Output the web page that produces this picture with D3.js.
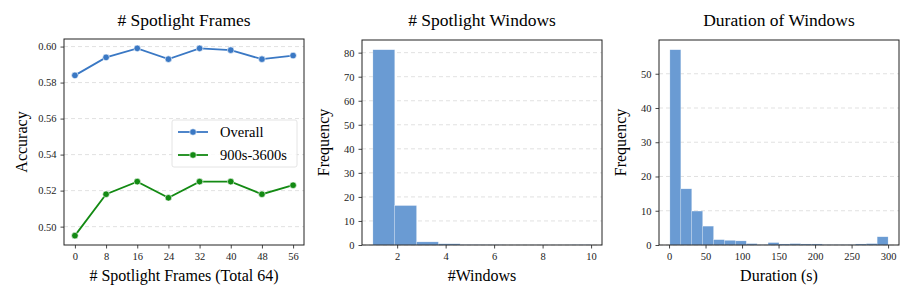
<!DOCTYPE html>
<html>
<head>
<meta charset="utf-8">
<script src="https://cdn.jsdelivr.net/npm/d3@7"></script>
<style>
  body { margin: 0; background: #fff; }
  svg { font-family: "Liberation Serif", "DejaVu Serif", serif; }
</style>
</head>
<body>
<div id="chart"></div>
<script>
// Panel 1: accuracy vs number of spotlight frames
const frames = [0, 8, 16, 24, 32, 40, 48, 56];
const accOverall = [0.584, 0.594, 0.599, 0.593, 0.599, 0.598, 0.593, 0.595];
const accLong = [0.495, 0.518, 0.525, 0.516, 0.525, 0.525, 0.518, 0.523];
const accTicks = [0.50, 0.52, 0.54, 0.56, 0.58, 0.60];

// Panel 2: histogram of # windows (bins from 1 to 10, width 0.9)
const winEdges = [1, 1.9, 2.8, 3.7, 4.6, 5.5, 6.4, 7.3, 8.2, 9.1, 10];
const winFreq = [81.2, 16.4, 1.3, 0.5, 0.15, 0.1, 0.05, 0.05, 0.05, 0.1];
const winXTicks = [2, 4, 6, 8, 10];
const winYTicks = [0, 10, 20, 30, 40, 50, 60, 70, 80];

// Panel 3: histogram of window durations (20 bins)
const durStart = 1.2, durEnd = 300, durBins = 20;
const durFreq = [57.0, 16.4, 9.9, 5.5, 1.55, 1.35, 1.2, 0.4, 0.1, 0.7,
                 0.3, 0.4, 0.3, 0.3, 0.1, 0.1, 0.1, 0.3, 0.4, 2.4];
const durXTicks = [0, 50, 100, 150, 200, 250, 300];
const durYTicks = [0, 10, 20, 30, 40, 50];

const W = 913, H = 302;
const barColor = "#6a9bd3";
const blue = "#3a78c4", green = "#138a13";

const svg = d3.select("#chart").append("svg")
  .attr("width", W).attr("height", H);

function panel(box, xDomain, yDomain, xTicks, yTicks, xFmt, yFmt, title, xLabel, yLabel, labelX) {
  const x = d3.scaleLinear().domain(xDomain).range([box.l, box.r]);
  const y = d3.scaleLinear().domain(yDomain).range([box.b, box.t]);

  // dashed horizontal grid
  svg.append("g").selectAll("line")
    .data(yTicks).enter().append("line")
      .attr("x1", box.l).attr("x2", box.r)
      .attr("y1", d => y(d)).attr("y2", d => y(d))
      .attr("stroke", "#d9d9d9").attr("stroke-width", 0.8)
      .attr("stroke-dasharray", "4,3");

  const g = svg.append("g");

  const xa = svg.append("g")
    .attr("transform", `translate(0,${box.b})`)
    .call(d3.axisBottom(x).tickValues(xTicks).tickFormat(xFmt).tickSize(3.5).tickPadding(4));
  const ya = svg.append("g")
    .attr("transform", `translate(${box.l},0)`)
    .call(d3.axisLeft(y).tickValues(yTicks).tickFormat(yFmt).tickSize(3.5).tickPadding(4));
  [xa, ya].forEach(a => {
    a.select(".domain").remove();
    a.selectAll("text").attr("font-size", 10.5).attr("fill", "#222")
      .attr("font-family", "Liberation Serif, serif");
    a.selectAll("line").attr("stroke", "#333").attr("stroke-width", 0.9);
  });

  // frame
  svg.append("rect")
    .attr("x", box.l).attr("y", box.t)
    .attr("width", box.r - box.l).attr("height", box.b - box.t)
    .attr("fill", "none").attr("stroke", "#222").attr("stroke-width", 1);

  svg.append("text")
    .attr("x", (box.l + box.r) / 2).attr("y", 26)
    .attr("text-anchor", "middle").attr("font-size", 17.5)
    .text(title);
  svg.append("text")
    .attr("x", (box.l + box.r) / 2).attr("y", 281)
    .attr("text-anchor", "middle").attr("font-size", 16)
    .text(xLabel);
  svg.append("text")
    .attr("transform", `translate(${labelX},${(box.t + box.b) / 2}) rotate(-90)`)
    .attr("text-anchor", "middle").attr("font-size", 16)
    .text(yLabel);

  return { x, y, g };
}

// ---- panel 1
const p1box = { l: 64, r: 304, t: 39, b: 245 };
const accMin = d3.min(accLong), accMax = d3.max(accOverall);
const accPad = (accMax - accMin) * 0.05;
const p1 = panel(p1box, [-2.8, 58.8], [accMin - accPad, accMax + accPad],
  frames, accTicks, d3.format("d"), d3.format(".2f"),
  "# Spotlight Frames", "# Spotlight Frames (Total 64)", "Accuracy", 27);

const series = [
  { name: "Overall", vals: accOverall, color: blue },
  { name: "900s-3600s", vals: accLong, color: green }
];
const line = d3.line().x(d => p1.x(d[0])).y(d => p1.y(d[1]));
series.forEach(s => {
  const pts = frames.map((f, i) => [f, s.vals[i]]);
  p1.g.append("path").datum(pts)
    .attr("d", line).attr("fill", "none")
    .attr("stroke", s.color).attr("stroke-width", 1.8);
  p1.g.selectAll(null).data(pts).enter().append("circle")
    .attr("cx", d => p1.x(d[0])).attr("cy", d => p1.y(d[1]))
    .attr("r", 3.3).attr("fill", s.color)
    .attr("stroke", "#fff").attr("stroke-width", 0.6);
});

// legend
const lg = svg.append("g").attr("transform", "translate(172,120)");
lg.append("rect").attr("width", 125).attr("height", 47).attr("rx", 2)
  .attr("fill", "#fff").attr("fill-opacity", 0.85)
  .attr("stroke", "#ddd").attr("stroke-width", 0.8);
series.forEach((s, i) => {
  const yy = 12 + i * 23;
  lg.append("line").attr("x1", 6).attr("x2", 36).attr("y1", yy).attr("y2", yy)
    .attr("stroke", s.color).attr("stroke-width", 1.8);
  lg.append("circle").attr("cx", 21).attr("cy", yy).attr("r", 3.3)
    .attr("fill", s.color).attr("stroke", "#fff").attr("stroke-width", 0.6);
  lg.append("text").attr("x", 48).attr("y", yy + 5)
    .attr("font-size", 14.5).text(s.name);
});

// ---- panel 2
const p2box = { l: 362, r: 602, t: 40, b: 245 };
const winPad = (winEdges[winEdges.length - 1] - winEdges[0]) * 0.05;
const p2 = panel(p2box, [winEdges[0] - winPad, winEdges[winEdges.length - 1] + winPad],
  [0, d3.max(winFreq) * 1.05], winXTicks, winYTicks, d3.format("d"), d3.format("d"),
  "# Spotlight Windows", "#Windows", "Frequency", 329);
p2.g.selectAll("rect").data(winFreq).enter().append("rect")
  .attr("x", (d, i) => p2.x(winEdges[i]))
  .attr("width", (d, i) => p2.x(winEdges[i + 1]) - p2.x(winEdges[i]))
  .attr("y", d => p2.y(d)).attr("height", d => p2.y(0) - p2.y(d))
  .attr("fill", barColor).attr("stroke", "#fff").attr("stroke-opacity", 0.4)
  .attr("stroke-width", 0.5);

// ---- panel 3
const p3box = { l: 659, r: 899, t: 40, b: 245 };
const durW = (durEnd - durStart) / durBins;
const durPad = (durEnd - durStart) * 0.05;
const p3 = panel(p3box, [durStart - durPad, durEnd + durPad],
  [0, d3.max(durFreq) * 1.05], durXTicks, durYTicks, d3.format("d"), d3.format("d"),
  "Duration of Windows", "Duration (s)", "Frequency", 626);
p3.g.selectAll("rect").data(durFreq).enter().append("rect")
  .attr("x", (d, i) => p3.x(durStart + i * durW))
  .attr("width", p3.x(durStart + durW) - p3.x(durStart))
  .attr("y", d => p3.y(d)).attr("height", d => p3.y(0) - p3.y(d))
  .attr("fill", barColor).attr("stroke", "#fff").attr("stroke-opacity", 0.4)
  .attr("stroke-width", 0.5);
</script>
</body>
</html>
